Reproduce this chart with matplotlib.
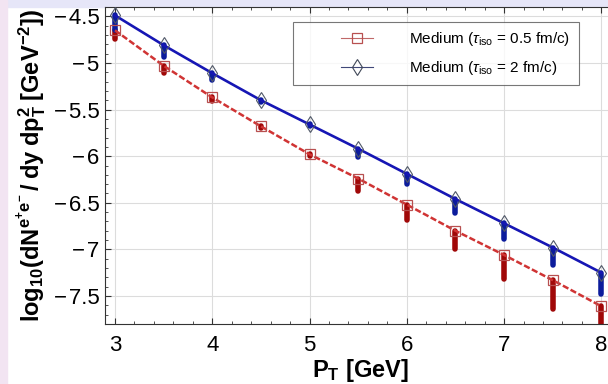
import matplotlib
matplotlib.use("Agg")
import matplotlib.pyplot as plt
from matplotlib.lines import Line2D
from matplotlib.legend_handler import HandlerLine2D
from matplotlib.patches import Rectangle
from matplotlib.ticker import MultipleLocator

plt.rcParams["font.family"] = ["Liberation Sans", "DejaVu Sans"]
plt.rcParams["mathtext.fontset"] = "custom"
plt.rcParams["mathtext.rm"] = "Liberation Sans"
plt.rcParams["mathtext.it"] = "Liberation Sans:italic"
plt.rcParams["mathtext.bf"] = "Liberation Sans:bold"

# data
pt = [3, 3.5, 4, 4.5, 5, 5.5, 6, 6.5, 7, 7.5, 8]
tau05 = [-4.65, -5.03, -5.37, -5.68, -5.98, -6.24, -6.52, -6.80, -7.06, -7.33, -7.61]
tau05_low = [-4.74, -5.11, -5.41, -5.70, -6.00, -6.37, -6.68, -7.00, -7.32, -7.64, -7.90]
tau2 = [-4.49, -4.81, -5.11, -5.40, -5.66, -5.92, -6.19, -6.46, -6.72, -6.98, -7.25]
tau2_low = [-4.65, -4.94, -5.18, -5.42, -5.68, -6.01, -6.30, -6.61, -6.89, -7.17, -7.48]
labels = [r"Medium ($\tau_{\rm iso}$ = 0.5 fm/c)", r"Medium ($\tau_{\rm iso}$ = 2 fm/c)"]

red_bar, blue_bar = "#a00808", "#0c1c9c"
red_line, blue_line = "#d03434", "#1616b4"

fig = plt.figure(figsize=(6.08, 3.84), dpi=100, facecolor="white")
# lavender slide border seen on top / left
fig.patches.append(Rectangle((0, 1 - 7 / 384), 1, 7 / 384, transform=fig.transFigure,
                             color="#e6e6f8", zorder=-5))
fig.patches.append(Rectangle((0, 0), 7 / 608, 1, transform=fig.transFigure,
                             color="#f2e4f2", zorder=-5))

ax = fig.add_axes([105 / 608, 60 / 384, 510 / 608, 317 / 384])

for x, hi, lo in zip(pt, tau05, tau05_low):
    ax.plot([x, x], [hi, lo], color=red_bar, lw=4, solid_capstyle="round", zorder=2)
for x, hi, lo in zip(pt, tau2, tau2_low):
    ax.plot([x, x], [hi, lo], color=blue_bar, lw=4, solid_capstyle="round", zorder=2)

ax.plot(pt, tau05, color=red_line, lw=1.8, ls=(0, (2.5, 1)), zorder=3)
ax.plot(pt, tau2, color=blue_line, lw=1.9, zorder=3)

ax.plot(pt, tau05, ls="none", marker="s", ms=7.5, mfc="none", mec="#b85050", mew=0.9, zorder=4)
ax.plot(pt, tau2, ls="none", marker="d", ms=8.5, mfc="none", mec="#505868", mew=0.8, zorder=4)

ax.set_xlim(2.897, 8.14)
ax.set_ylim(-7.80, -4.40)
ax.xaxis.set_major_locator(MultipleLocator(1))
ax.xaxis.set_minor_locator(MultipleLocator(0.2))
ax.yaxis.set_major_locator(MultipleLocator(0.5))
ax.yaxis.set_minor_locator(MultipleLocator(0.1))
ax.yaxis.set_major_formatter(plt.FuncFormatter(lambda v, p: ("%g" % v).replace("-", "\u2212\u200a")))
ax.grid(True, which="major", color="#dcdcdc", lw=0.8)
ax.set_axisbelow(True)
ax.tick_params(which="both", direction="in", top=True, right=True, colors="#333333",
               labelcolor="black", labelsize=16)
ax.tick_params(which="major", length=4, width=0.8)
ax.tick_params(which="minor", length=2, width=0.6)
ax.tick_params(axis="x", pad=8)
ax.tick_params(axis="y", pad=4)
for s in ax.spines.values():
    s.set_color("#333333")
    s.set_linewidth(0.8)

ax.set_xlabel(r"$\mathbf{P_T\ [GeV]}$", fontsize=17, labelpad=1)
ax.set_ylabel(r"$\mathbf{log_{10}(dN^{e^{+}e^{-}}\,/\;dy\;dp_{T}^{2}\;[GeV^{-2}])}$",
              fontsize=17, labelpad=3)

handles = [
    Line2D([], [], color="#c06868", lw=0.8, marker="s", ms=7.5, mfc="none", mec="#b85050", mew=0.9),
    Line2D([], [], color="#404878", lw=0.8, marker="d", ms=8.5, mfc="none", mec="#404858", mew=0.8),
]
leg = ax.legend(handles, labels, loc="upper left", bbox_to_anchor=((293 - 105) / 510, 0.953),
                fontsize=11, frameon=True, fancybox=False, borderpad=0.55, labelspacing=0.7,
                handlelength=4.7, handletextpad=2.35, borderaxespad=0,
                handler_map={Line2D: HandlerLine2D(xpad=2.6)})
leg.get_frame().set_edgecolor("#555555")
leg.get_frame().set_linewidth(0.8)

fig.savefig("out.png", dpi=100, facecolor=fig.get_facecolor())
